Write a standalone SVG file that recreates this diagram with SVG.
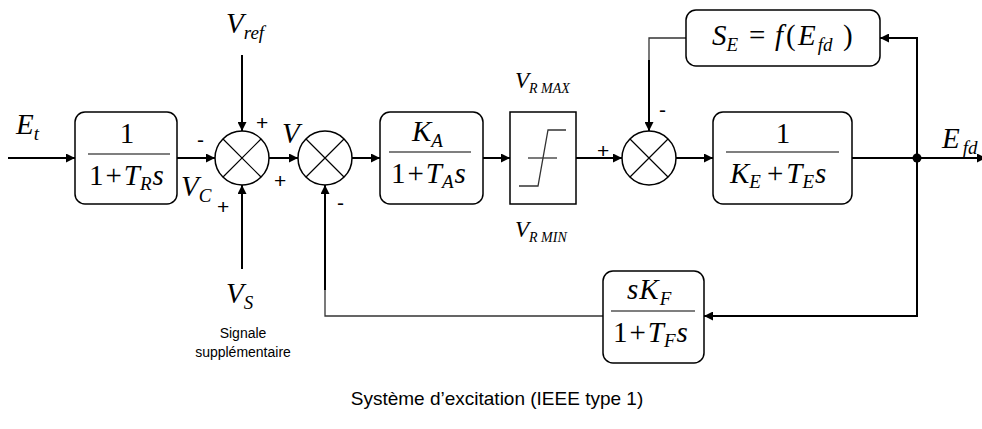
<svg xmlns="http://www.w3.org/2000/svg" width="982" height="429" viewBox="0 0 982 429">
<defs>
<style>
.blk{fill:#fff;stroke:#000;stroke-width:1.5}
.ln{fill:none;stroke:#000;stroke-width:2}
.thin{fill:none;stroke:#000;stroke-width:1.2}
.gr{fill:none;stroke:#333;stroke-width:1.3}
.m{font-family:"Liberation Serif","Times New Roman",serif;font-size:29px;fill:#000}
.i{font-style:italic}
.n{font-style:normal}
.sub{font-family:"Liberation Serif","Times New Roman",serif;font-style:italic;font-size:19px}
.sg{font-family:"Liberation Sans",Arial,sans-serif;font-size:21px;fill:#000}
.lab{font-family:"Liberation Sans",Arial,sans-serif;font-size:14px;fill:#000}
.ttl{font-family:"Liberation Sans",Arial,sans-serif;font-size:19px;fill:#000}
</style>
<marker id="ar" viewBox="0 0 10 10" refX="10" refY="5" markerWidth="5" markerHeight="4.5" markerUnits="strokeWidth" orient="auto">
<path d="M0,0 L10,5 L0,10 Z" fill="#000"/>
</marker>
</defs>

<g id="connectors">
<line class="ln" x1="8" y1="158" x2="75" y2="158" marker-end="url(#ar)"/>
<line class="ln" x1="177" y1="158" x2="215" y2="158" marker-end="url(#ar)"/>
<line class="ln" x1="242" y1="55" x2="242" y2="131" marker-end="url(#ar)"/>
<line class="ln" x1="242" y1="269" x2="242" y2="185" marker-end="url(#ar)"/>
<line class="ln" x1="269" y1="158" x2="298" y2="158" marker-end="url(#ar)"/>
<line class="ln" x1="352" y1="158" x2="380" y2="158" marker-end="url(#ar)"/>
<line class="ln" x1="483" y1="158" x2="510" y2="158" marker-end="url(#ar)"/>
<line class="ln" x1="576" y1="158" x2="622" y2="158" marker-end="url(#ar)"/>
<polyline class="gr" points="686,38 649,38 649,60"/>
<line class="ln" x1="649" y1="60" x2="649" y2="131" marker-end="url(#ar)"/>
<line class="ln" x1="676" y1="158" x2="713" y2="158" marker-end="url(#ar)"/>
<line class="ln" x1="852" y1="158" x2="917" y2="158"/>
<polyline class="ln" points="917,158 917,38 880,38" marker-end="url(#ar)"/>
<polyline class="ln" points="917,158 917,316 704,316" marker-end="url(#ar)"/>
<line class="ln" x1="917" y1="158" x2="986" y2="158" marker-end="url(#ar)"/>
<circle cx="917" cy="158" r="4.5" fill="#000"/>
<polyline class="gr" points="603,316 325,316 325,290"/>
<line class="ln" x1="325" y1="290" x2="325" y2="185" marker-end="url(#ar)"/>
</g>

<g id="in-Et">
<text class="m i" x="16" y="134">E<tspan class="sub" dy="6">t</tspan></text>
</g>

<g id="block-TR">
<rect class="blk" x="75" y="112" width="102" height="92" rx="10"/>
<text class="m" x="127" y="143" text-anchor="middle">1</text>
<line class="thin" x1="88" y1="154" x2="170" y2="154"/>
<text class="m" x="89" y="185">1<tspan dx="2">+</tspan><tspan class="i" dx="2">T</tspan><tspan class="sub" dy="5">R</tspan><tspan class="i" dy="-5" dx="1">s</tspan></text>
</g>

<g id="sum1">
<circle class="blk" cx="242" cy="158" r="27"/>
<path class="thin" d="M223,139 L261,177 M261,139 L223,177"/>
<text class="sg" x="197" y="147">-</text>
<text class="sg" x="256" y="130">+</text>
<text class="sg" x="274" y="188">+</text>
<text class="sg" x="217" y="214">+</text>
</g>

<g id="lab-Vref">
<text class="m i" x="226" y="33">V<tspan class="sub" dy="6">ref</tspan></text>
</g>

<g id="lab-VC">
<text class="m i" x="181" y="196">V<tspan class="sub" dy="6">C</tspan></text>
</g>

<g id="lab-V">
<text class="m i" x="282" y="143">V</text>
</g>

<g id="lab-VS">
<text class="m i" x="226" y="303">V<tspan class="sub" dy="6">S</tspan></text>
<text class="lab" x="243" y="338" text-anchor="middle">Signale</text>
<text class="lab" x="243" y="357" text-anchor="middle">supplémentaire</text>
</g>

<g id="sum2">
<circle class="blk" cx="325" cy="158" r="27"/>
<path class="thin" d="M306,139 L344,177 M344,139 L306,177"/>
<text class="sg" x="337" y="210">-</text>
</g>

<g id="block-KA">
<rect class="blk" x="380" y="112" width="103" height="92" rx="10"/>
<text class="m i" x="412" y="141">K<tspan class="sub" dy="6">A</tspan></text>
<line class="thin" x1="389" y1="152" x2="471" y2="152"/>
<text class="m" x="391" y="183">1<tspan dx="2">+</tspan><tspan class="i" dx="2">T</tspan><tspan class="sub" dy="5">A</tspan><tspan class="i" dy="-5" dx="1">s</tspan></text>
</g>

<g id="limiter">
<rect class="blk" x="510" y="112" width="66" height="92"/>
<polyline fill="none" stroke="#333" stroke-width="1.3" points="519,186 538,186 548,130 566,130"/>
<line x1="528" y1="158" x2="557" y2="158" stroke="#333" stroke-width="1.3"/>
<text class="m i" x="515" y="88" style="font-size:23px">V<tspan class="sub" dy="5" style="font-size:14px">R MAX</tspan></text>
<text class="m i" x="515" y="237" style="font-size:23px">V<tspan class="sub" dy="5" style="font-size:14px">R MIN</tspan></text>
</g>

<g id="sum3">
<circle class="blk" cx="649" cy="158" r="27"/>
<path class="thin" d="M630,139 L668,177 M668,139 L630,177"/>
<text class="sg" x="597" y="158">+</text>
<text class="sg" x="659" y="117">-</text>
</g>

<g id="block-SE">
<rect class="blk" x="686" y="10" width="194" height="56" rx="10"/>
<text class="m i" x="712" y="45">S<tspan class="sub" dy="6">E</tspan><tspan class="n" x="749" dy="-6">=</tspan><tspan x="775">f</tspan><tspan class="n" x="786">(</tspan><tspan x="798">E</tspan><tspan class="sub" dy="6" dx="2">fd</tspan><tspan class="n" x="843" dy="-6">)</tspan></text>
</g>

<g id="block-KE">
<rect class="blk" x="713" y="112" width="139" height="92" rx="10"/>
<text class="m" x="783" y="143" text-anchor="middle">1</text>
<line class="thin" x1="726" y1="152" x2="839" y2="152"/>
<text class="m i" x="730" y="183">K<tspan class="sub" dy="5">E</tspan><tspan class="n" dy="-5" dx="6">+</tspan><tspan dx="3">T</tspan><tspan class="sub" dy="5">E</tspan><tspan dy="-5" dx="1">s</tspan></text>
</g>

<g id="out-Efd">
<text class="m i" x="942" y="148">E<tspan class="sub" dy="6" dx="3">fd</tspan></text>
</g>

<g id="block-KF">
<rect class="blk" x="603" y="271" width="101" height="92" rx="10"/>
<text class="m i" x="627" y="299">s<tspan dx="1">K</tspan><tspan class="sub" dy="6" dx="1">F</tspan></text>
<line class="thin" x1="611" y1="311" x2="695" y2="311"/>
<text class="m" x="613" y="342">1<tspan dx="2">+</tspan><tspan class="i" dx="2">T</tspan><tspan class="sub" dy="5">F</tspan><tspan class="i" dy="-5" dx="1">s</tspan></text>
</g>

<g id="title">
<text class="ttl" x="497" y="405" text-anchor="middle">Système d’excitation (IEEE type 1)</text>
</g>
</svg>
